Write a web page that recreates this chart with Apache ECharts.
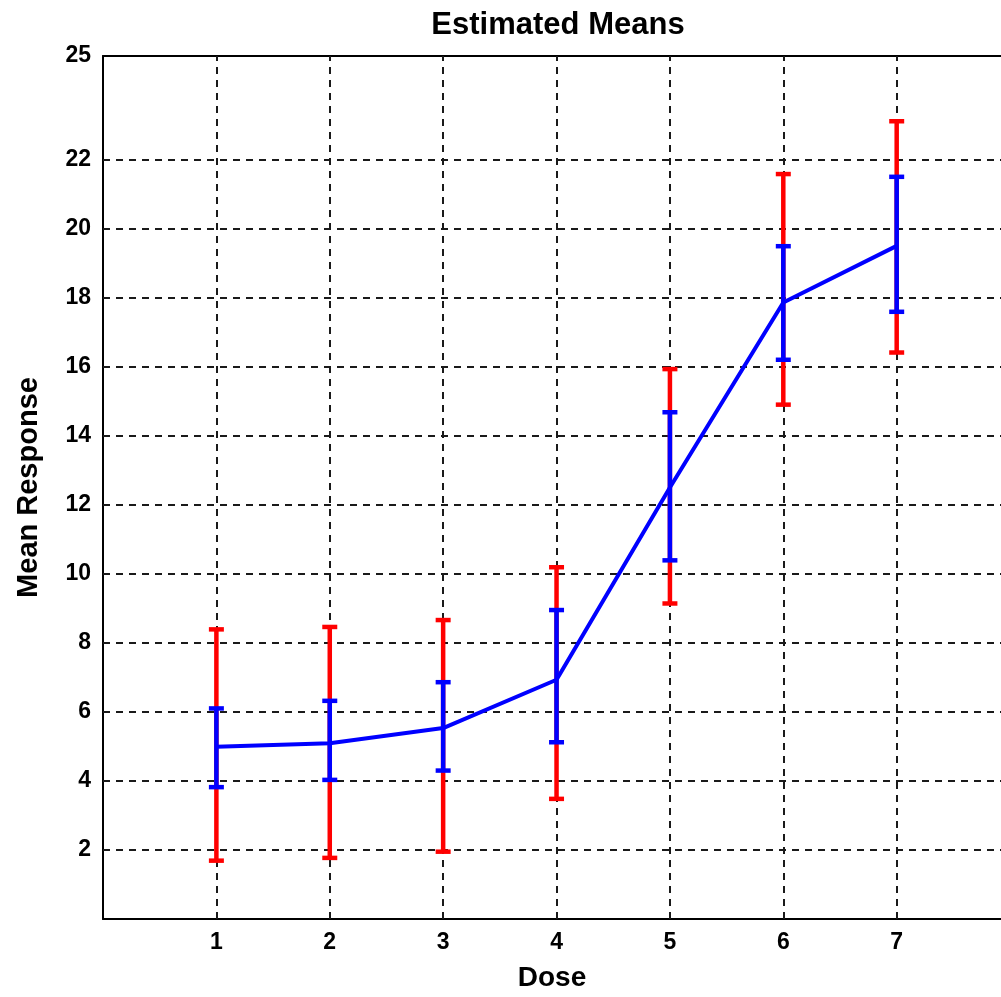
<!DOCTYPE html>
<html>
<head>
<meta charset="utf-8">
<script src="https://cdn.jsdelivr.net/npm/echarts@6/dist/echarts.min.js"></script>
<style>
  html, body { margin: 0; padding: 0; background: #fff; }
  #chart { width: 1001px; height: 997px; }
</style>
</head>
<body>
<div id="chart"></div>
<script>
// dose levels and estimated means
var doses = [1, 2, 3, 4, 5, 6, 7];
var means = [4.99, 5.09, 5.53, 6.93, 12.5, 17.86, 19.5];
// inner (blue) interval
var innerLow = [3.82, 4.03, 4.30, 5.12, 10.39, 16.2, 17.59];
var innerHigh = [6.10, 6.32, 6.86, 8.95, 14.68, 19.49, 21.5];
// outer (red) interval
var outerLow = [1.69, 1.77, 1.95, 3.48, 9.14, 14.9, 16.41];
var outerHigh = [8.39, 8.46, 8.66, 10.19, 15.93, 21.58, 23.11];
// tick labels
var yTickLabels = [2, 4, 6, 8, 10, 12, 14, 16, 18, 20, 22, 25];
var yGridLines = [2, 4, 6, 8, 10, 12, 14, 16, 18, 20, 22];
var xTickLabels = [1, 2, 3, 4, 5, 6, 7];

var FONT = '"Liberation Sans", Arial, sans-serif';

function barData(lo, hi) {
  return doses.map(function (d, i) { return [d, lo[i], hi[i]]; });
}

function errorBar(color) {
  return function (params, api) {
    var x = api.value(0);
    var p0 = api.coord([x, api.value(1)]);
    var p1 = api.coord([x, api.value(2)]);
    var cap = 7.5;
    var st = { stroke: color, lineWidth: 4.5 };
    return {
      type: 'group',
      children: [
        { type: 'line', shape: { x1: p0[0], y1: p0[1], x2: p1[0], y2: p1[1] }, style: st },
        { type: 'line', shape: { x1: p0[0] - cap, y1: p0[1], x2: p0[0] + cap, y2: p0[1] }, style: st },
        { type: 'line', shape: { x1: p1[0] - cap, y1: p1[1], x2: p1[0] + cap, y2: p1[1] }, style: st }
      ]
    };
  };
}

var gridStyle = { color: '#1a1a1a', width: 2, type: [7, 6] };

var chart = echarts.init(document.getElementById('chart'));
chart.setOption({
  animation: false,
  title: {
    text: 'Estimated Means',
    left: 553,
    textAlign: 'center',
    top: 5,
    textStyle: { fontFamily: FONT, fontSize: 31, fontWeight: 'bold', color: '#000' }
  },
  grid: { left: 103, top: 56, width: 900, height: 863, containLabel: false },
  xAxis: [{
    type: 'value',
    min: 0,
    max: 7.92,
    interval: 1,
    name: 'Dose',
    nameLocation: 'middle',
    nameGap: 45,
    nameTextStyle: { fontFamily: FONT, fontSize: 28, fontWeight: 'bold', color: '#000' },
    axisLine: { lineStyle: { color: '#000', width: 2 } },
    axisTick: { show: false },
    splitLine: { show: false },
    axisLabel: {
      margin: 12,
      fontFamily: FONT, fontSize: 23, fontWeight: 'bold', color: '#000',
      showMaxLabel: false,
      formatter: function (v) { return xTickLabels.indexOf(v) >= 0 ? String(v) : ''; }
    }
  }, {
    type: 'value',
    position: 'top',
    min: 0,
    max: 7.92,
    axisLine: { show: true, onZero: false, lineStyle: { color: '#000', width: 2 } },
    axisTick: { show: false },
    axisLabel: { show: false },
    splitLine: { show: false }
  }],
  yAxis: {
    type: 'value',
    min: 0,
    max: 25,
    interval: 1,
    name: 'Mean Response',
    nameLocation: 'middle',
    nameGap: 60,
    nameTextStyle: { fontFamily: FONT, fontSize: 29, fontWeight: 'bold', color: '#000' },
    axisLine: { show: true, lineStyle: { color: '#000', width: 2 } },
    axisTick: { show: false },
    splitLine: { show: false },
    axisLabel: {
      margin: 12,
      fontFamily: FONT, fontSize: 23, fontWeight: 'bold', color: '#000',
      formatter: function (v) { return yTickLabels.indexOf(v) >= 0 ? String(v) : ''; }
    }
  },
  series: [
    {
      type: 'line',
      data: [],
      silent: true,
      z: 1,
      markLine: {
        symbol: 'none',
        silent: true,
        z: 1,
        label: { show: false },
        lineStyle: gridStyle,
        emphasis: { disabled: true },
        data: yGridLines.map(function (v) { return { yAxis: v }; })
          .concat(xTickLabels.map(function (v) { return { xAxis: v }; }))
      }
    },
    {
      type: 'custom',
      renderItem: errorBar('#ff0000'),
      data: barData(outerLow, outerHigh),
      encode: { x: 0, y: [1, 2] },
      z: 6
    },
    {
      type: 'custom',
      renderItem: errorBar('#0000ff'),
      data: barData(innerLow, innerHigh),
      encode: { x: 0, y: [1, 2] },
      z: 7
    },
    {
      type: 'line',
      data: doses.map(function (d, i) { return [d, means[i]]; }),
      symbol: 'none',
      lineStyle: { color: '#0000ff', width: 4 },
      z: 8
    }
  ]
});
</script>
</body>
</html>
